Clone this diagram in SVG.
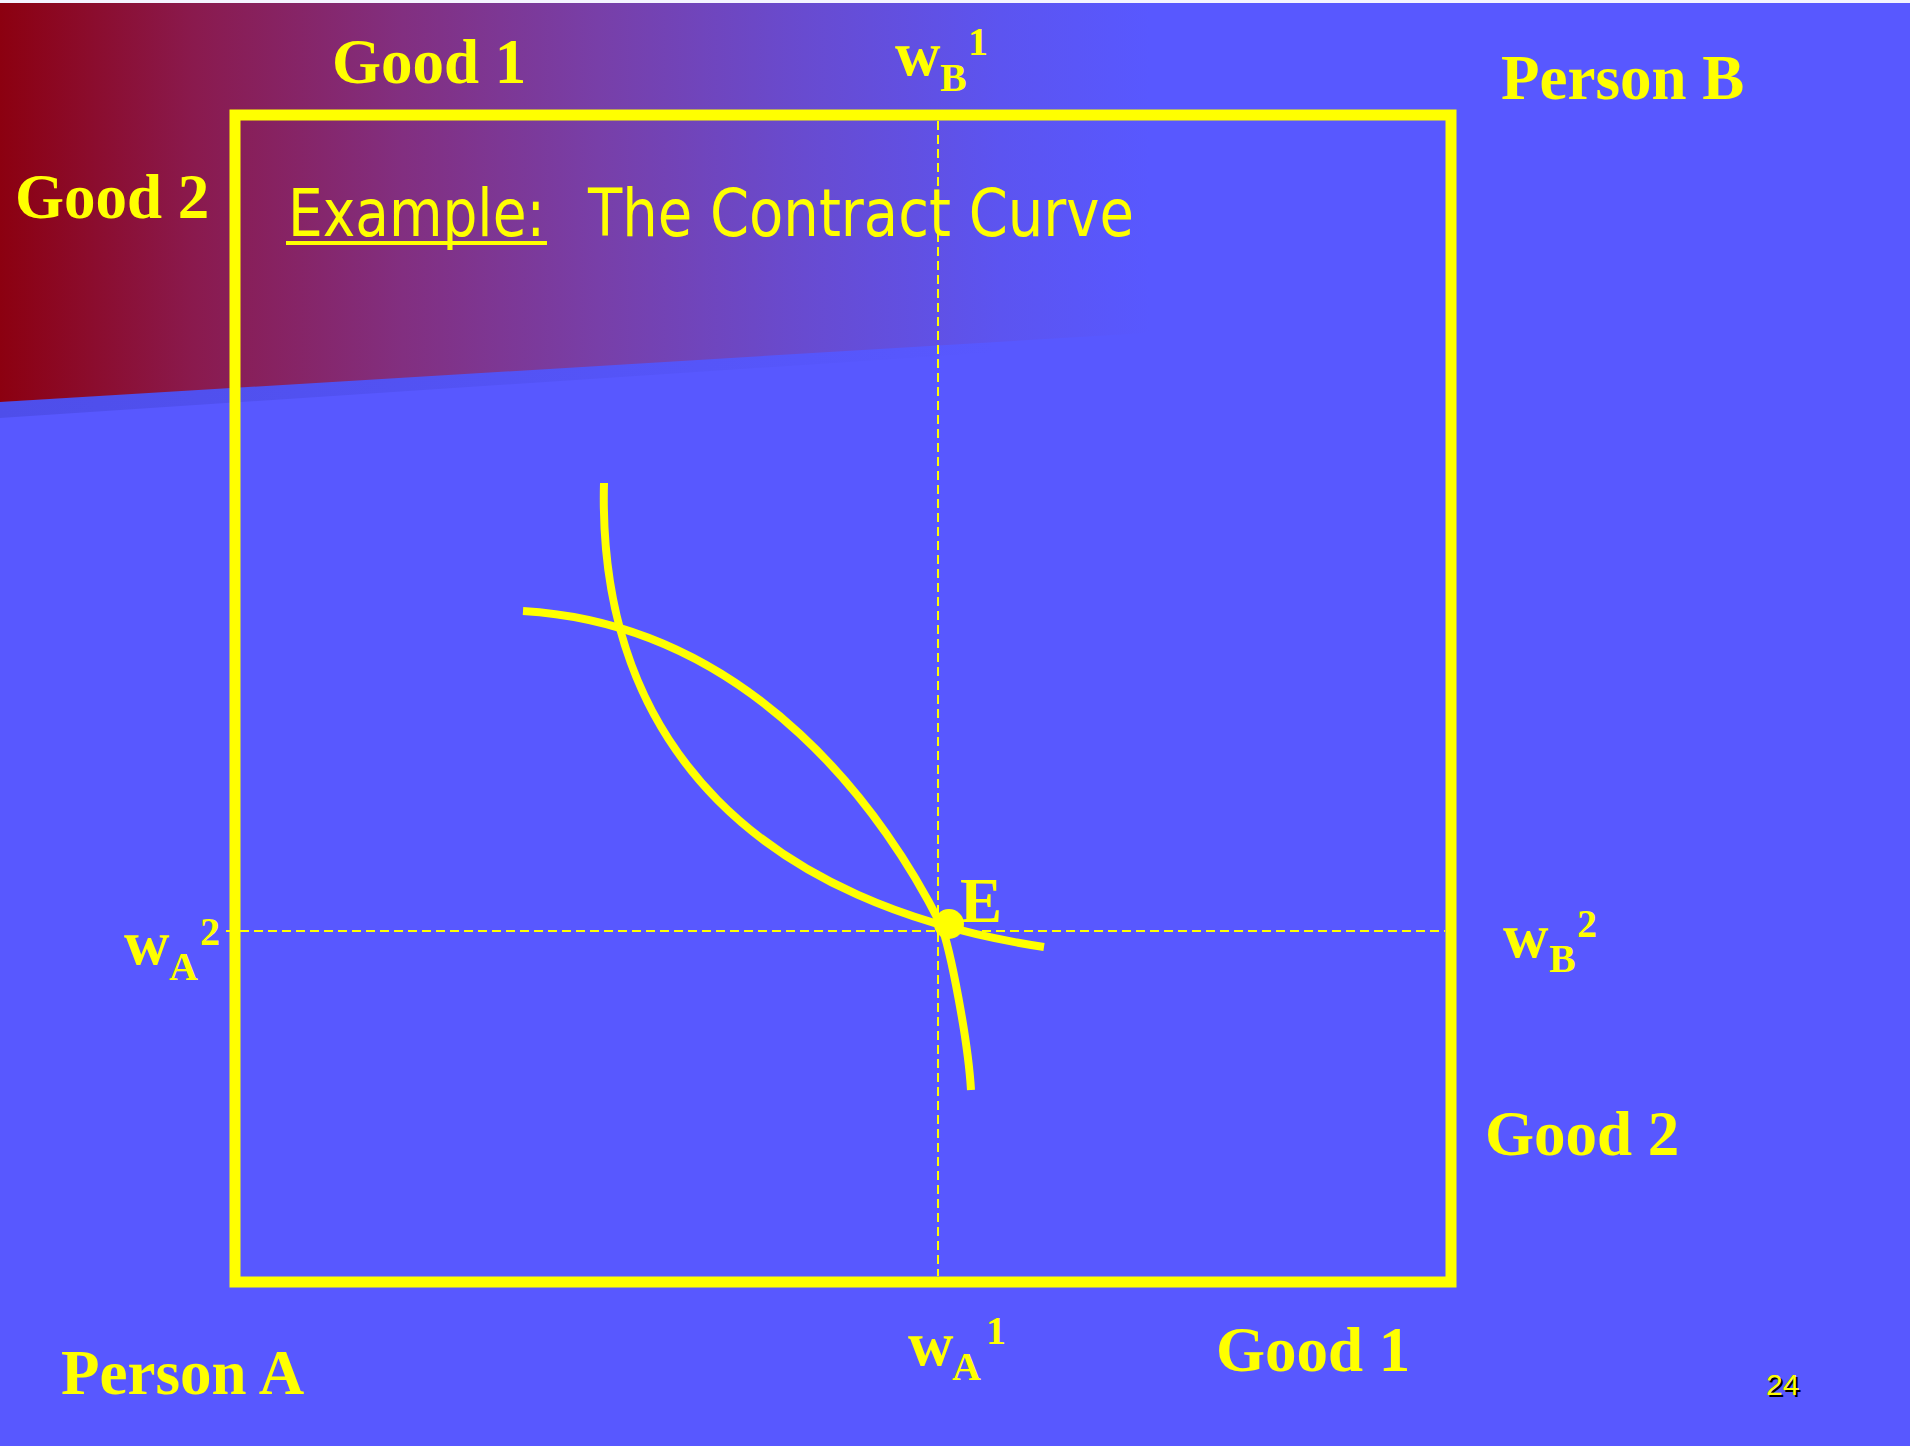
<svg xmlns="http://www.w3.org/2000/svg" width="1910" height="1446" viewBox="0 0 1910 1446">
<defs>
<linearGradient id="bgGrad" gradientUnits="userSpaceOnUse" x1="0" y1="0" x2="1150" y2="0">
<stop offset="0" stop-color="#8C0010"/>
<stop offset="0.17" stop-color="#8A1A4E"/>
<stop offset="0.35" stop-color="#822F80"/>
<stop offset="0.52" stop-color="#783FA8"/>
<stop offset="0.70" stop-color="#684BD0"/>
<stop offset="0.87" stop-color="#5C54F0"/>
<stop offset="1" stop-color="#5858FF"/>
</linearGradient>
<linearGradient id="bandGrad" gradientUnits="userSpaceOnUse" x1="0" y1="0" x2="1000" y2="0">
<stop offset="0" stop-color="#4E4EEA" stop-opacity="1"/>
<stop offset="1" stop-color="#4E4EEA" stop-opacity="0"/>
</linearGradient>
<style>
.lbl{font-family:"Liberation Serif","Times New Roman",serif;font-weight:bold;fill:#FFFF00;}
.big{font-size:63px;}
.sm{font-size:40px;}
.title{font-family:"DejaVu Sans Condensed","DejaVu Sans","Liberation Sans",sans-serif;font-size:66px;fill:#FFFF00;}
.curve{fill:none;stroke:#FFFF00;stroke-width:8;}
.dash{fill:none;stroke:#FFFF00;stroke-width:2;stroke-dasharray:9 5;}
</style>
</defs>
<rect x="0" y="0" width="1910" height="1446" fill="#5858FF"/>
<polygon points="0,418 1000,352 1000,338 0,402" fill="url(#bandGrad)"/>
<polygon points="0,0 1910,0 1910,287 0,402" fill="url(#bgGrad)"/>
<rect x="0" y="0" width="1910" height="3" fill="#F4F4FF"/>

<g id="connectors">
<line class="dash" x1="938" y1="121" x2="938" y2="1276"/>
<line class="dash" x1="226" y1="931" x2="1445" y2="931"/>
</g>

<g id="box">
<rect x="235" y="115" width="1216" height="1167" fill="none" stroke="#FFFF00" stroke-width="11"/>
</g>

<g id="curveA">
<path class="curve" d="M604,483 C597,751 767,905.5 1044,947"/>
</g>
<g id="curveB">
<path class="curve" d="M523,611 C756.7,625 888.6,820.2 941,925 C950.3,948.2 968,1040 971,1090"/>
</g>

<g id="pointE">
<circle cx="949" cy="924" r="15" fill="#FFFF00"/>
<text class="lbl big" x="960" y="922">E</text>
</g>

<g id="title">
<text class="title" x="288" y="236" textLength="257" lengthAdjust="spacingAndGlyphs">Example:</text>
<rect x="286" y="241" width="261" height="4" fill="#FFFF00"/>
<text class="title" x="588" y="236" textLength="546" lengthAdjust="spacingAndGlyphs">The Contract Curve</text>
</g>

<g id="labels">
<text class="lbl big" x="332" y="83">Good 1</text>
<text class="lbl big" x="15" y="218">Good 2</text>
<text class="lbl big" x="1501" y="99">Person B</text>
<text class="lbl big" x="1485" y="1155">Good 2</text>
<text class="lbl big" x="1216" y="1371">Good 1</text>
<text class="lbl big" x="61" y="1394">Person A</text>
</g>

<g id="wB1">
<text class="lbl big" x="895" y="75">w</text>
<text class="lbl sm" x="940" y="91">B</text>
<text class="lbl sm" x="968" y="55">1</text>
</g>
<g id="wB2">
<text class="lbl big" x="1503" y="957">w</text>
<text class="lbl sm" x="1549" y="972">B</text>
<text class="lbl sm" x="1577" y="937">2</text>
</g>
<g id="wA2">
<text class="lbl big" x="124" y="964">w</text>
<text class="lbl sm" x="169" y="980">A</text>
<text class="lbl sm" x="200" y="945">2</text>
</g>
<g id="wA1">
<text class="lbl big" x="908" y="1365">w</text>
<text class="lbl sm" x="952" y="1380">A</text>
<text class="lbl sm" x="986" y="1344">1</text>
</g>

<g id="pageNum">
<text x="1768" y="1397" font-family="Liberation Sans, Arial, sans-serif" font-size="30" fill="#000000">24</text>
<text x="1766" y="1395" font-family="Liberation Sans, Arial, sans-serif" font-size="30" fill="#FFFF00">24</text>
</g>
</svg>
